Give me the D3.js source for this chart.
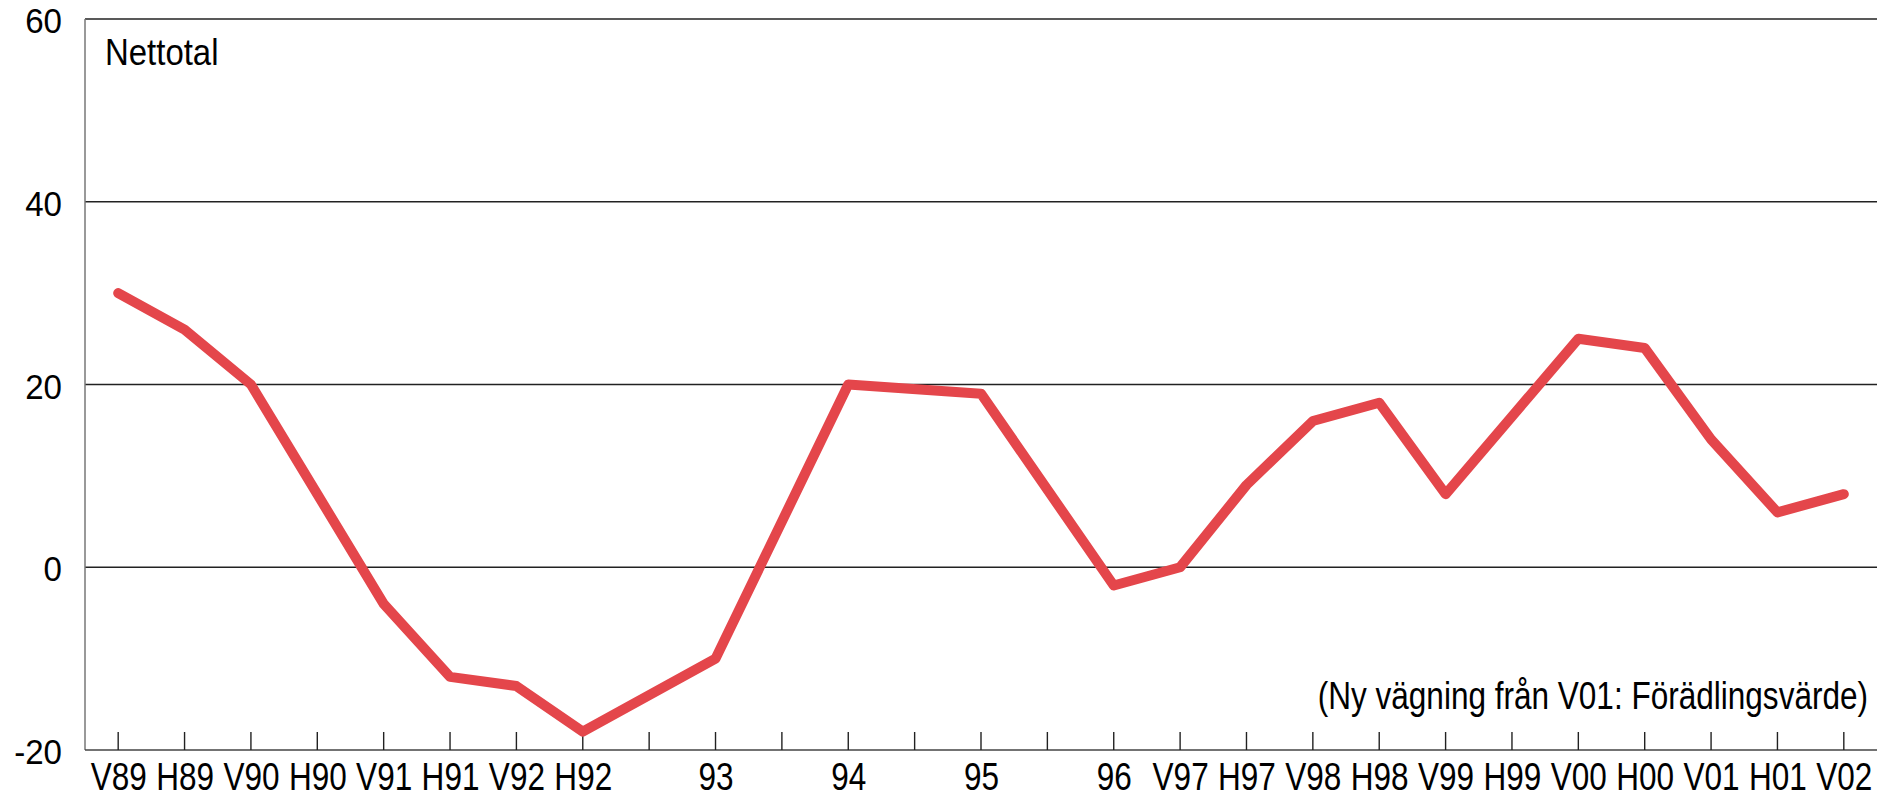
<!DOCTYPE html>
<html>
<head>
<meta charset="utf-8">
<script src="https://cdn.jsdelivr.net/npm/d3@7"></script>
<style>
html,body{margin:0;padding:0;background:#fff;}
svg{display:block;}
</style>
</head>
<body>
<svg id="chart" width="1890" height="797"></svg>
<script>
const periods = ["V89","H89","V90","H90","V91","H91","V92","H92","V93","H93","V94","H94","V95","H95","V96","H96","V97","H97","V98","H98","V99","H99","V00","H00","V01","H01","V02"];
const tickLabels = ["V89","H89","V90","H90","V91","H91","V92","H92","","93","","94","","95","","96","V97","H97","V98","H98","V99","H99","V00","H00","V01","H01","V02"];
const nettotal = [30,26,20,8,-4,-12,-13,-18,null,-10,null,20,null,19,null,-2,0,9,16,18,8,16.5,25,24,14,6,8];
const yTicks = [-20,0,20,40,60];
const seriesLabel = "Nettotal";
const note = "(Ny vägning från V01: Förädlingsvärde)";

(function () {
const font = "'Liberation Sans',Arial,sans-serif";
const sx = 0.83;

const svg = d3.select("#chart");
const mLeft = 85, mRight = 1877, mTop = 19, mBottom = 750;

const x = d3.scalePoint().domain(periods).range([mLeft, mRight]).padding(0.5);
const y = d3.scaleLinear().domain([-20, 60]).range([mBottom, mTop]);

// gridlines
svg.append("g").selectAll("line").data(yTicks.filter(d => d > -20)).join("line")
  .attr("x1", mLeft).attr("x2", mRight)
  .attr("y1", d => y(d)).attr("y2", d => y(d))
  .attr("stroke", "#222").attr("stroke-width", 1.4);

// y axis labels
svg.append("g").selectAll("text").data(yTicks).join("text")
  .attr("transform", d => `translate(62,${y(d) + 14}) scale(0.92,1)`)
  .attr("text-anchor", "end")
  .attr("font-family", font).attr("font-size", 36).attr("fill", "#000")
  .text(d => d);

// left axis
svg.append("line").attr("x1", mLeft).attr("x2", mLeft).attr("y1", mTop).attr("y2", mBottom)
  .attr("stroke", "#777").attr("stroke-width", 1.5);

// bottom axis
const xAxis = d3.axisBottom(x).tickSize(0).tickFormat((d, i) => tickLabels[i]);
const gx = svg.append("g").attr("transform", `translate(0,${mBottom})`).call(xAxis);
gx.select(".domain").remove();
gx.selectAll("text").attr("font-family", font).attr("font-size", 38).attr("fill", "#000")
  .attr("dy", null).attr("y", 0)
  .attr("transform", `translate(0,40) scale(${sx},1)`);
svg.append("line").attr("x1", mLeft).attr("x2", mRight).attr("y1", mBottom).attr("y2", mBottom)
  .attr("stroke", "#444").attr("stroke-width", 1.5);
svg.append("g").selectAll("line").data(periods).join("line")
  .attr("x1", d => x(d)).attr("x2", d => x(d))
  .attr("y1", mBottom).attr("y2", mBottom - 18)
  .attr("stroke", "#222").attr("stroke-width", 1.4);

// line
const pts = periods.map((p, i) => ({p, v: nettotal[i]})).filter(d => d.v !== null);
svg.append("path").datum(pts)
  .attr("fill", "none").attr("stroke", "#e4464b").attr("stroke-width", 10)
  .attr("stroke-linecap", "round").attr("stroke-linejoin", "round")
  .attr("d", d3.line().x(d => x(d.p)).y(d => y(d.v)));

// texts
svg.append("text").attr("transform", `translate(105,65) scale(0.89,1)`)
  .attr("font-family", font).attr("font-size", 37).attr("fill", "#000").text(seriesLabel);
svg.append("text").attr("transform", `translate(1868,709) scale(${sx},1)`).attr("text-anchor", "end")
  .attr("font-family", font).attr("font-size", 38).attr("fill", "#000").text(note);
})();
</script>
</body>
</html>
